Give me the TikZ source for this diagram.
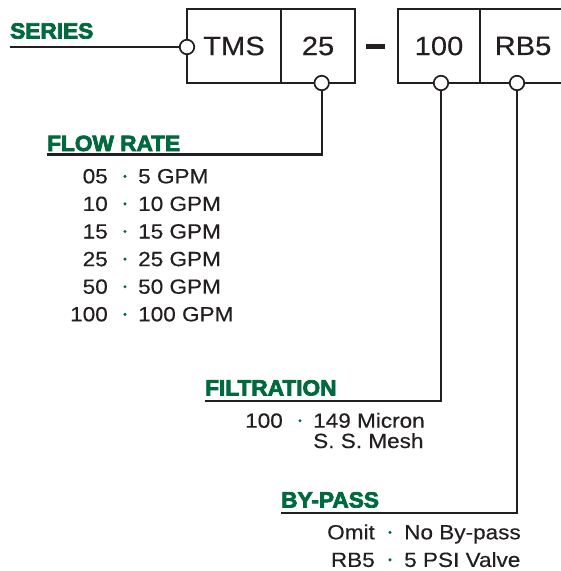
\documentclass[tikz,border=0pt]{standalone}
\usepackage{fontspec}
\setmainfont{Liberation Sans}
\newfontfamily\headfont[FakeStretch=1.03,BoldFeatures={FakeBold=3.5}]{Liberation Sans}
\newfontfamily\bodyfont[FakeStretch=1.1,FakeBold=0.4]{Liberation Sans}
\definecolor{brandgreen}{RGB}{0,106,62}
\definecolor{ink}{RGB}{35,31,32}
\tikzset{
  cell/.style={draw=ink, line width=1.8pt, rectangle, inner sep=0pt, minimum height=74pt,
    font=\bodyfont\fontsize{26.5}{26.5}\selectfont, text=ink},
  port/.style={circle, draw=ink, fill=white, line width=1.7pt, minimum size=14.5pt, inner sep=0pt},
  conn/.style={draw=ink, line width=2.4pt},
  heading/.style={anchor=base west, inner sep=0pt, text=brandgreen,
    font=\headfont\bfseries\fontsize{22}{22}\selectfont},
  code/.style={anchor=base east, inner sep=0pt, text=ink, font=\bodyfont\fontsize{20.5}{20.5}\selectfont},
  desc/.style={anchor=base west, inner sep=0pt, text=ink, font=\bodyfont\fontsize{20.5}{20.5}\selectfont},
  gdot/.style={circle, fill=brandgreen, minimum size=3.4pt, inner sep=0pt},
}
\begin{document}
\begin{tikzpicture}[x=1pt,y=-1pt]
\useasboundingbox (0,0) rectangle (561,571);
% boxes
\node[cell, minimum width=94pt] (tms) at (234,46) {TMS};
\node[cell, minimum width=74pt] (fr) at (318,46) {25};
\node[fill=ink, minimum width=19pt, minimum height=5.5pt, inner sep=0pt] (dash) at (375.5,46.7) {};
\node[cell, minimum width=82pt] (filt) at (439,46) {100};
\node[cell, minimum width=86pt] (byp) at (523,46) {RB5};
% headings
\node[heading] (hseries) at (10,38.5) {SERIES};
\node[heading] (hflow) at (47,151) {FLOW RATE};
\node[heading] (hfilt) at (205,395.5) {FILTRATION};
\node[heading] (hbyp) at (281,507.5) {BY-PASS};
% connector end points
\coordinate (sstart) at (10,47);
\coordinate (fstart) at (47,154.3);
\coordinate (tstart) at (205,401);
\coordinate (bstart) at (281,513);
% ports
\node[port] (pser) at (187,47) {};
\node[port] (pfr) at (321.7,83) {};
\node[port] (pfilt) at (441,83) {};
\node[port] (pbyp) at (517,83) {};
% connectors
\draw[conn, line width=2pt] (sstart) -- (pser.west);
\draw[conn, line join=miter] (pfr.south) -- (pfr.south |- fstart) -- (fstart);
\draw[conn, line join=miter] (pfilt.south) -- (pfilt.south |- tstart) -- (tstart);
\draw[conn, line join=miter] (pbyp.south) -- (pbyp.south |- bstart) -- (bstart);
% flow rate entries
\foreach \c/\d [count=\i] in {05/5 GPM, 10/10 GPM, 15/15 GPM, 25/25 GPM, 50/50 GPM, 100/100 GPM} {
  \node[code] (fc\i) at (108,{183.3+27.6*(\i-1)}) {\c};
  \node[gdot] (fd\i) at (125,{176.3+27.6*(\i-1)}) {};
  \node[desc] (fv\i) at (138,{183.3+27.6*(\i-1)}) {\d};
}
% filtration entries
\node[code] (tc1) at (283,427.7) {100};
\node[gdot] (td1) at (300,420.7) {};
\node[desc] (tv1) at (313,427.7) {149 Micron};
\node[desc] (tv2) at (313,448) {S. S. Mesh};
% by-pass entries
\node[code] (bc1) at (375,539.3) {Omit};
\node[gdot] (bd1) at (390,532.3) {};
\node[desc] (bv1) at (404,539.3) {No By-pass};
\node[code] (bc2) at (375,566.9) {RB5};
\node[gdot] (bd2) at (390,559.9) {};
\node[desc] (bv2) at (404,566.9) {5 PSI Valve};
\end{tikzpicture}
\end{document}
